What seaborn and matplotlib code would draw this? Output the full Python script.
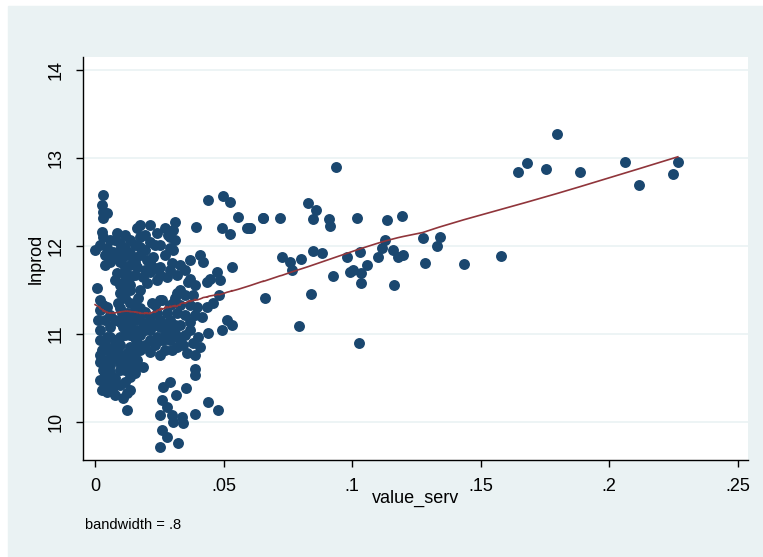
import numpy as np
import pandas as pd
import matplotlib
matplotlib.use("Agg")
import matplotlib.pyplot as plt
import seaborn as sns
from matplotlib.patches import Rectangle

# value_serv / lnprod pairs (outer / sparse points)
value_serv = [
    0.000, .0019, .0027, .0031, .0031, .0031, .0027, .0031, .0047, .0047,
    .0008, .0031, .0012, .0047, .0019, .0027, .0047, .0047, .0031, .0019,
    .0047, .0039, .0027, .0047, .0058, .0058, .0070, .0070, .0070,
    .0086, .0086, .0097, .0105, .0097, .0090, .0105, .0109, .0097, .0086,
    .0097, .0097, .0109, .0117, .0109, .0124, .0128, .0136, .0144, .0124,
    .0128, .0136, .0136, .0136, .0136, .0124, .0124, .0136, .0136, .0109,
    .0124, .0124, .0136, .0156, .0156,
    .0163, .0175, .0175, .0163, .0187, .0202, .0214, .0226, .0241, .0175,
    .0202, .0167, .0163, .0163, .0163, .0187, .0187, .0202, .0214, .0214,
    .0222, .0241, .0241, .0253, .0241, .0253, .0253,
    .0260, .0264, .0272, .0264, .0260, .0280, .0253, .0260, .0280, .0253,
    .0280, .0284, .0299, .0292, .0280, .0292, .0299, .0292, .0299, .0303,
    .0311, .0303, .0292, .0303, .0319, .0319, .0303, .0319, .0311, .0319,
    .0319, .0315, .0323, .0330,
    .0342, .0338, .0342, .0350, .0354, .0358, .0362, .0369, .0369, .0381,
    .0381, .0389, .0389, .0389, .0393, .0397, .0400, .0408, .0408,
    .0416, .0420, .0435, .0435, .0439, .0439, .0439, .0447, .0459, .0474,
    .0478, .0482, .0486, .0494, .0494, .0498, .0513, .0525, .0525, .0533,
    .0533, .0556, .0591, .0603, .0653, .0661, .0719,
    .0937, .0828, .0859, .0848, .0653, .0603, .0910, .0914, .1019, .1135,
    .1194, .1128, .1116, .1100, .1159, .1178, .1198, .1275, .1341, .1330,
    .0727, .0758, .0800, .0766, .0848, .0883, .0980, .1030, .1057, .1003,
    .1034, .1034, .0925, .1163, .1283, .1435, .1579, .0840, .0793, .1026,
    .0991,
    .1645, .1680, .1753, .1796, .1886, .2060, .2115, .2250, .2267,
]
lnprod = [
    11.95, 12.01, 12.47, 12.58, 12.39, 12.32, 12.16, 12.10, 11.98, 12.37,
    11.52, 11.33, 11.16, 11.31, 10.93, 10.82, 10.97, 10.70, 10.59, 10.68,
    10.48, 10.42, 10.36, 10.34, 10.65, 11.08, 10.85, 10.40, 11.93,
    11.69, 12.15, 11.95, 11.58, 11.47, 11.35, 11.24, 11.08, 10.97, 10.82,
    10.59, 10.67, 11.88, 11.76, 11.50, 11.61, 11.67, 11.92, 11.88, 11.24,
    11.05, 11.35, 11.50, 11.65, 10.85, 10.78, 10.67, 10.51, 10.36, 10.27,
    10.33, 10.14, 10.67, 10.56, 11.35,
    12.20, 12.10, 11.99, 11.76, 11.65, 11.84, 12.05, 11.88, 12.15, 11.50,
    11.58, 11.41, 11.05, 10.90, 10.70, 11.13, 10.63, 11.08, 10.93, 10.80,
    11.35, 11.61, 11.24, 11.08, 10.97, 10.76, 11.76,
    11.39, 10.93, 10.82, 10.40, 10.25, 10.17, 10.08, 9.91, 9.83, 9.72,
    11.65, 12.13, 11.81, 11.33, 11.24, 11.05, 10.82, 10.45, 10.08, 10.00,
    12.27, 12.18, 12.10, 11.95, 11.67, 11.47, 11.35, 11.24, 11.10, 10.97,
    10.85, 10.31, 9.76, 11.50,
    10.88, 10.06, 9.99, 10.99, 10.39, 10.78, 11.59, 11.63, 11.14, 11.44,
    10.90, 10.60, 10.53, 10.09, 12.22, 11.31, 10.97, 11.90, 10.85,
    11.19, 11.82, 11.59, 11.31, 11.01, 12.52, 10.23, 11.63, 11.35, 11.70,
    10.14, 11.44, 11.61, 12.20, 11.05, 12.57, 11.16, 12.50, 12.14, 11.10,
    11.76, 12.33, 12.20, 12.20, 12.32, 11.41, 12.32,
    12.90, 12.49, 12.41, 12.31, 12.32, 12.20, 12.31, 12.23, 12.32, 12.30,
    12.34, 12.07, 11.98, 11.88, 11.95, 11.88, 11.90, 12.09, 12.10, 12.00,
    11.88, 11.82, 11.85, 11.73, 11.94, 11.92, 11.88, 11.93, 11.78, 11.73,
    11.69, 11.58, 11.66, 11.56, 11.81, 11.80, 11.89, 11.45, 11.09, 10.90,
    11.70,
    12.84, 12.94, 12.875, 13.27, 12.84, 12.95, 12.69, 12.82, 12.95,
]

# points inside the dense cluster near zero (read column by column)
dense_serv = (
    [.0019] * 5 + [.0039] * 6 + [.0058] * 7 + [.0078] * 8 + [.0097] * 8
    + [.0117] * 9 + [.0136] * 8 + [.0156] * 8 + [.0175] * 6 + [.0194] * 6
    + [.0214] * 5 + [.0233] * 5 + [.0253] * 5 + [.0272] * 4 + [.0292] * 4
    + [.0311] * 3 + [.0330] * 4 + [.0350] * 3 + [.0369] * 3 + [.0389] * 3
)
dense_prod = [
    11.39, 11.27, 11.05, 10.76, 10.48,
    11.90, 11.78, 11.16, 10.88, 10.65, 10.53,
    12.07, 11.82, 11.22, 10.97, 10.80, 10.57, 10.42,
    12.07, 11.86, 11.61, 11.16, 10.93, 10.73, 10.50, 10.31,
    12.03, 11.82, 11.56, 11.30, 11.14, 10.88, 10.76, 10.42,
    12.13, 11.98, 11.67, 11.41, 11.18, 10.99, 10.73, 10.59, 10.45,
    12.07, 11.78, 11.56, 11.22, 11.10, 10.99, 10.76, 10.59,
    12.01, 11.82, 11.67, 11.27, 11.16, 10.95, 10.80, 10.65,
    12.24, 11.90, 11.30, 11.22, 10.99, 10.82,
    12.13, 11.95, 11.73, 11.25, 11.05, 10.88,
    12.24, 11.82, 11.70, 11.18, 11.05,
    12.01, 11.75, 11.33, 11.10, 10.88,
    12.01, 11.67, 11.39, 11.16, 10.93,
    12.20, 11.90, 11.10, 10.99,
    11.98, 11.73, 11.16, 10.93,
    12.07, 11.41, 11.01,
    11.78, 11.33, 11.10, 10.93,
    11.73, 11.44, 11.22,
    11.84, 11.33, 11.05,
    11.56, 11.22, 10.76,
]
bwidth = 0.8

xticks = [0, 0.05, 0.1, 0.15, 0.2, 0.25]
xtick_labels = ['0', '.05', '.1', '.15', '.2', '.25']
yticks = [10, 11, 12, 13, 14]

df = pd.DataFrame({'value_serv': value_serv + dense_serv,
                   'lnprod': lnprod + dense_prod})


def stata_lowess(x, y, bw):
    # running-line smoother like Stata's lowess (tricube weights, no robustness)
    order = np.argsort(x, kind='mergesort')
    xs = np.asarray(x)[order]
    ys = np.asarray(y)[order]
    n = len(xs)
    k = int(np.floor((n * bw - 0.5) / 2))
    fit = np.empty(n)
    for i in range(n):
        lo, hi = max(0, i - k), min(n - 1, i + k)
        xw, yw = xs[lo:hi + 1], ys[lo:hi + 1]
        delta = 1.0001 * max(xs[hi] - xs[i], xs[i] - xs[lo])
        w = (1 - (np.abs(xw - xs[i]) / delta) ** 3) ** 3
        xm = np.sum(w * xw) / np.sum(w)
        ym = np.sum(w * yw) / np.sum(w)
        sxx = np.sum(w * (xw - xm) ** 2)
        b = np.sum(w * (xw - xm) * (yw - ym)) / sxx if sxx > 0 else 0.0
        fit[i] = ym + b * (xs[i] - xm)
    return xs, fit


plt.rcParams['font.family'] = ['Liberation Sans', 'DejaVu Sans']

fig = plt.figure(figsize=(7.63, 5.57), dpi=100, facecolor='white')
fig.patches.append(Rectangle((8 / 763, 0), 1 - 8 / 763, 1 - 6 / 557,
                             transform=fig.transFigure, color='#eaf2f3', zorder=-10))
ax = fig.add_axes([83 / 763, 97 / 557, 665 / 763, 403 / 557])
ax.set_zorder(1)
ax.set_facecolor('white')

for yv in yticks:
    ax.axhline(yv, color='#eaf2f3', lw=1.2, zorder=0)

sns.scatterplot(data=df, x='value_serv', y='lnprod', ax=ax, color='#1a476f',
                s=62, linewidth=0, marker='o', zorder=2)
lx, ly = stata_lowess(df['value_serv'].values, df['lnprod'].values, bwidth)
ax.plot(lx, ly, color='#90353b', lw=1.2, zorder=3)

ax.set_xlim(-0.0047, 0.254)
ax.set_ylim(9.568, 14.148)
ax.set_xticks(xticks)
ax.set_xticklabels(xtick_labels)
ax.set_yticks(yticks)
ax.set_yticklabels([str(v) for v in yticks], rotation=90, va='center')

for s in ['top', 'right']:
    ax.spines[s].set_visible(False)
for s in ['left', 'bottom']:
    ax.spines[s].set_color('black')
    ax.spines[s].set_linewidth(1.0)
ax.tick_params(axis='both', direction='out', length=5, width=1, colors='black',
               labelsize=13)
ax.tick_params(axis='x', pad=8)
ax.tick_params(axis='y', pad=8)

ax.set_xlabel('value_serv', fontsize=13)
ax.set_ylabel('lnprod', fontsize=13)
ax.xaxis.set_label_coords(0.5, -0.075)
ax.yaxis.set_label_coords(-0.058, 0.5)

fig.text(85 / 763, 1 - 525 / 557, 'bandwidth = .8', fontsize=10.5, va='center',
         ha='left')

fig.savefig('out.png', dpi=100, facecolor=fig.get_facecolor())
